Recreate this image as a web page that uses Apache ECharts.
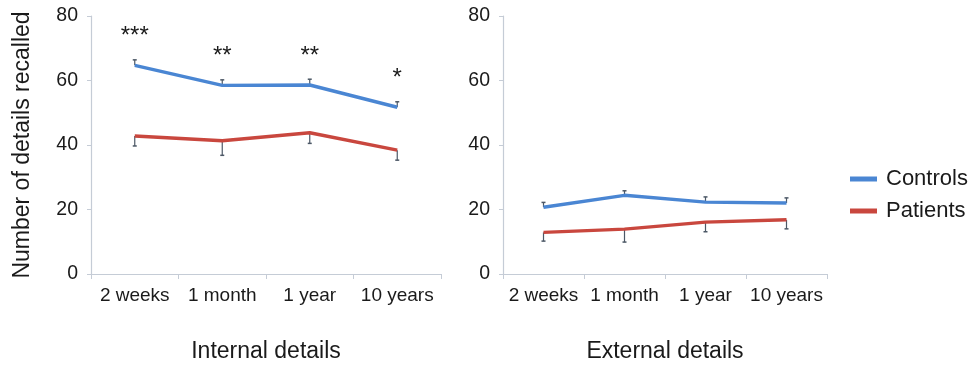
<!DOCTYPE html>
<html>
<head>
<meta charset="utf-8">
<script src="https://cdn.jsdelivr.net/npm/echarts@6/dist/echarts.min.js"></script>
<style>html,body{margin:0;padding:0;background:#fff;}#c{width:973px;height:366px;}</style>
</head>
<body>
<div id="c"></div>
<script>
var categories = ['2 weeks', '1 month', '1 year', '10 years'];
var yTicks = [0, 20, 40, 60, 80];
var panelTitles = ['Internal details', 'External details'];
var yAxisTitle = 'Number of details recalled';
var seriesNames = ['Controls', 'Patients'];

var controlsInternal = [64.7, 58.5, 58.6, 51.7];
var controlsInternalErr = [1.7, 1.7, 1.8, 1.7];
var patientsInternal = [42.8, 41.3, 43.8, 38.4];
var patientsInternalErr = [3.1, 4.5, 3.3, 3.1];

var controlsExternal = [20.7, 24.4, 22.3, 22.0];
var controlsExternalErr = [1.5, 1.4, 1.6, 1.6];
var patientsExternal = [12.9, 13.9, 16.1, 16.8];
var patientsExternalErr = [2.7, 4.0, 3.0, 2.8];

var sigLabels = ['***', '**', '**', '*'];

var blue = '#4a86d3';
var red = '#c9473e';
var errColor = '#4c5866';
var textColor = '#1a1a1a';
var axisColor = '#c5ccd6';
var font = 'Liberation Sans, Arial, Helvetica, sans-serif';

function errSeries(gi, vals, errs, dir) {
  return {
    type: 'custom',
    xAxisIndex: gi, yAxisIndex: gi,
    z: 1,
    silent: true,
    data: vals.map(function (v, i) { return [i, v, v + dir * errs[i]]; }),
    renderItem: function (params, api) {
      var p0 = api.coord([api.value(0), api.value(1)]);
      var p1 = api.coord([api.value(0), api.value(2)]);
      var cw = 2;
      return {
        type: 'group',
        children: [
          { type: 'line', shape: { x1: p0[0], y1: p0[1], x2: p1[0], y2: p1[1] }, style: { stroke: errColor, lineWidth: 1.2 } },
          { type: 'line', shape: { x1: p1[0] - cw, y1: p1[1], x2: p1[0] + cw, y2: p1[1] }, style: { stroke: errColor, lineWidth: 1.5 } }
        ]
      };
    }
  };
}

function lineSeries(gi, name, vals, color, sig) {
  var s = {
    type: 'line',
    name: name,
    xAxisIndex: gi, yAxisIndex: gi,
    data: vals,
    symbol: 'none',
    z: 3,
    color: color,
    lineStyle: { width: 3.4, color: color }
  };
  if (sig) {
    s.symbol = 'circle';
    s.symbolSize = 0.1;
    s.showSymbol = true;
    s.label = {
      show: true,
      position: 'top',
      distance: 17,
      fontSize: 24,
      fontFamily: font,
      color: textColor,
      formatter: function (p) { return sig[p.dataIndex]; }
    };
  }
  return s;
}

function xAx(gi) {
  return {
    type: 'category',
    gridIndex: gi,
    data: categories,
    name: panelTitles[gi],
    nameLocation: 'middle',
    nameGap: 66,
    nameTextStyle: { fontSize: 23, fontFamily: font, color: textColor },
    axisLine: { lineStyle: { color: axisColor, width: 1.2 } },
    axisTick: { show: true, length: 5, lineStyle: { color: axisColor } },
    axisLabel: { fontSize: 19, fontFamily: font, color: textColor, margin: 12, interval: 0 }
  };
}

function yAx(gi) {
  var a = {
    type: 'value',
    gridIndex: gi,
    min: yTicks[0],
    max: yTicks[yTicks.length - 1],
    interval: yTicks[1] - yTicks[0],
    axisLine: { show: true, lineStyle: { color: axisColor, width: 1.2 } },
    axisTick: { show: true, length: 4, lineStyle: { color: axisColor } },
    splitLine: { show: false },
    axisLabel: { fontSize: 19.5, fontFamily: font, color: textColor, margin: 13 }
  };
  if (gi === 0) {
    a.name = yAxisTitle;
    a.nameLocation = 'middle';
    a.nameGap = 57;
    a.nameTextStyle = { fontSize: 23, fontFamily: font, color: textColor };
  }
  return a;
}

var chart = echarts.init(document.getElementById('c'), null, { renderer: 'canvas' });
chart.setOption({
  backgroundColor: '#ffffff',
  animation: false,
  grid: [
    { left: 91, top: 16, width: 350, height: 258, outerBoundsMode: 'none', containLabel: false },
    { left: 503, top: 16, width: 324, height: 258, outerBoundsMode: 'none', containLabel: false }
  ],
  legend: {
    data: seriesNames,
    orient: 'vertical',
    left: 845,
    top: 163,
    icon: 'rect',
    itemWidth: 27,
    itemHeight: 5,
    itemGap: 10,
    textStyle: { fontSize: 22, fontFamily: font, color: textColor, padding: [0, 0, 0, 4] }
  },
  xAxis: [xAx(0), xAx(1)],
  yAxis: [yAx(0), yAx(1)],
  series: [
    errSeries(0, controlsInternal, controlsInternalErr, 1),
    errSeries(0, patientsInternal, patientsInternalErr, -1),
    errSeries(1, controlsExternal, controlsExternalErr, 1),
    errSeries(1, patientsExternal, patientsExternalErr, -1),
    lineSeries(0, seriesNames[0], controlsInternal, blue, sigLabels),
    lineSeries(0, seriesNames[1], patientsInternal, red),
    lineSeries(1, seriesNames[0], controlsExternal, blue),
    lineSeries(1, seriesNames[1], patientsExternal, red)
  ]
});
</script>
</body>
</html>
